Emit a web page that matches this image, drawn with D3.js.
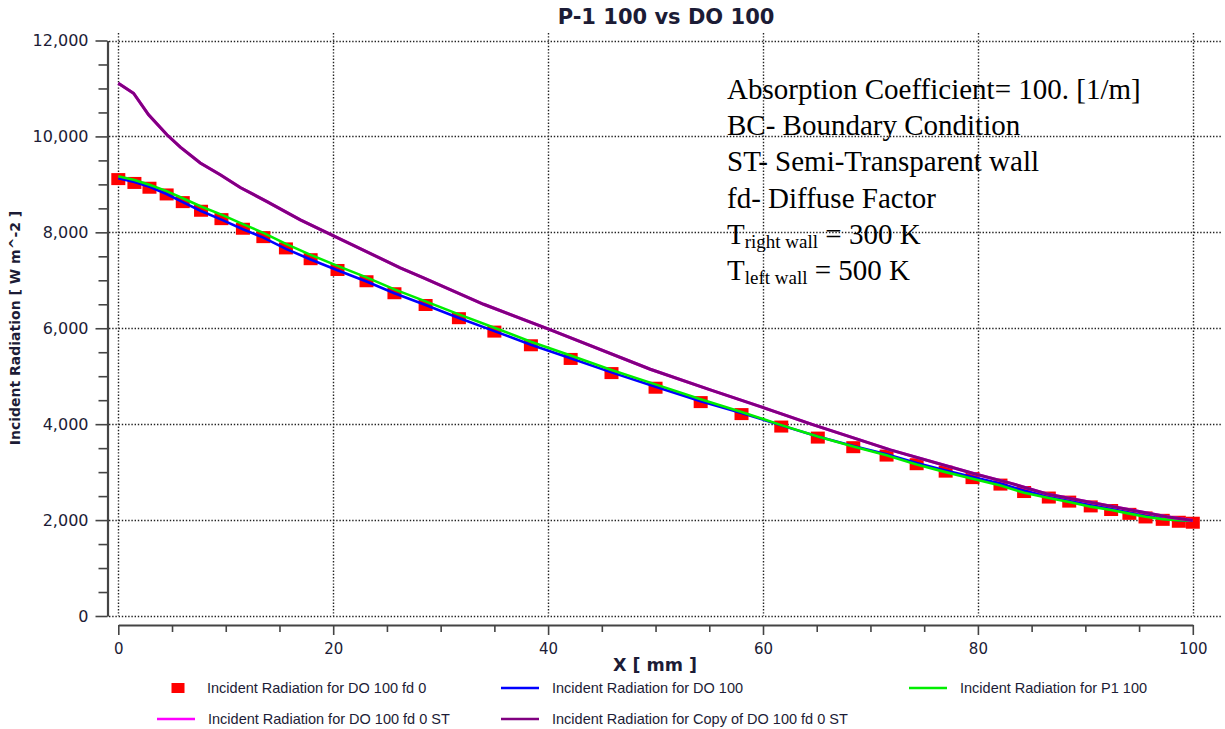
<!DOCTYPE html>
<html>
<head>
<meta charset="utf-8">
<script src="https://cdn.jsdelivr.net/npm/d3@7"></script>
<style>
  body { margin: 0; background: #fff; }
  svg { display: block; }
</style>
</head>
<body>
<script>
// node positions [mm] shared by the DO / P1 curves
const xNodes = [0, 1.5, 2.9, 4.5, 6.0, 7.7, 9.6, 11.6, 13.5, 15.6, 17.9, 20.4, 23.1, 25.7, 28.6, 31.7,
  35.0, 38.4, 42.1, 45.9, 50.0, 54.2, 58.0, 61.7, 65.1, 68.4, 71.5, 74.3, 77.0, 79.5, 82.1, 84.3,
  86.6, 88.5, 90.5, 92.4, 94.1, 95.6, 97.2, 98.7, 100];

// Incident Radiation for DO 100 fd 0 (red squares)
const doFd0 = [9110, 9030, 8930, 8790, 8630, 8450, 8275, 8075, 7900, 7665, 7440, 7215, 6980, 6730, 6485, 6210,
  5930, 5645, 5360, 5065, 4760, 4460, 4210, 3950, 3720, 3520, 3345, 3165, 3010, 2875, 2740, 2585,
  2470, 2385, 2285, 2210, 2130, 2055, 2005, 1965, 1945];

// Incident Radiation for DO 100 (blue)
const do100 = [9130, 9050, 8950, 8800, 8630, 8445, 8265, 8065, 7890, 7655, 7435, 7210, 6975, 6730, 6485, 6215,
  5940, 5655, 5375, 5080, 4780, 4480, 4235, 3975, 3745, 3545, 3370, 3190, 3035, 2900, 2765, 2610,
  2495, 2410, 2310, 2240, 2155, 2085, 2030, 2000, 1985];

// Incident Radiation for P1 100 (green)
const p1100 = [9170, 9090, 8990, 8860, 8710, 8540, 8370, 8170, 7990, 7760, 7530, 7300, 7060, 6810, 6560, 6290,
  6010, 5720, 5430, 5130, 4830, 4520, 4255, 3980, 3745, 3535, 3350, 3160, 3000, 2860, 2720, 2570,
  2460, 2375, 2280, 2210, 2135, 2070, 2020, 1995, 1985];

// Incident Radiation for Copy of DO 100 fd 0 ST (purple)
const xCopy = [0, 1.42, 2.82, 4.53, 5.77, 7.63, 9.49, 11.35, 13.84, 16.94, 20.04, 26.24, 28.41, 34.0, 40.05,
  49.51, 55.1, 59.9, 64.7, 71.85, 79.92, 83.01, 86.43, 92.63, 97.6, 100];
const copySt = [11110, 10900, 10450, 10035, 9775, 9445, 9200, 8935, 8640, 8260, 7925, 7260, 7050, 6500, 5980,
  5145, 4715, 4355, 3985, 3465, 2950, 2770, 2545, 2280, 2070, 1990];

// Incident Radiation for DO 100 fd 0 ST (magenta) - lies exactly under the purple copy
const xSt = xCopy;
const doFd0St = copySt;

const xTicks = [0, 20, 40, 60, 80, 100];
const yTicks = [0, 2000, 4000, 6000, 8000, 10000, 12000];

const notes = ["Absorption Coefficient= 100. [1/m]", "BC- Boundary Condition",
  "ST- Semi-Transparent wall", "fd- Diffuse Factor"];

const W = 1225, H = 729;
const txt = "#1c1c36";

const svg = d3.select("body").append("svg")
  .attr("width", W).attr("height", H)
  .style("font-family", "'DejaVu Sans', Verdana, sans-serif");

const x = d3.scaleLinear().domain([0, 100]).range([118.3, 1192.8]);
const y = d3.scaleLinear().domain([0, 12000]).range([616, 40.5]);

// dotted grid
const grid = svg.append("g").attr("stroke", "#222").attr("stroke-width", 1.4)
  .attr("stroke-dasharray", "1.4,1.8");
grid.selectAll(".gx").data(xTicks).enter().append("line")
  .attr("x1", d => Math.round(x(d)) + 0.5).attr("x2", d => Math.round(x(d)) + 0.5)
  .attr("y1", 33).attr("y2", 616);
grid.selectAll(".gy").data(yTicks).enter().append("line")
  .attr("x1", 109).attr("x2", 1222)
  .attr("y1", d => Math.round(y(d)) + 0.5).attr("y2", d => Math.round(y(d)) + 0.5);

// y axis
const yAxis = svg.append("g").attr("transform", "translate(107.5,0)")
  .call(d3.axisLeft(y).tickValues(yTicks).tickSize(12).tickSizeOuter(0).tickFormat(d3.format(",")));
svg.append("g").attr("transform", "translate(107.5,0)")
  .call(d3.axisLeft(y).tickValues(d3.range(500, 12000, 500).filter(v => v % 2000)).tickSize(9).tickFormat(""))
  .select(".domain").remove();

// x axis
const xAxis = svg.append("g").attr("transform", "translate(0,625)")
  .call(d3.axisBottom(x).tickValues(xTicks).tickSize(10).tickSizeOuter(0));
svg.append("g").attr("transform", "translate(0,625)")
  .call(d3.axisBottom(x).tickValues(d3.range(5, 100, 5).filter(v => v % 20)).tickSize(7).tickFormat(""))
  .select(".domain").remove();

svg.selectAll(".domain").attr("stroke", "#444").attr("stroke-width", 2.2);
svg.selectAll(".tick line").attr("stroke", "#444").attr("stroke-width", 1.6);
yAxis.selectAll(".tick text").attr("font-size", 16).attr("fill", txt).attr("x", -19)
  .style("font-family", "'DejaVu Sans', Verdana, sans-serif");
xAxis.selectAll(".tick text").attr("font-size", 15).attr("fill", txt).attr("dy", "1.05em")
  .style("font-family", "'DejaVu Sans', Verdana, sans-serif");

// titles
svg.append("text").attr("x", 666).attr("y", 24).attr("text-anchor", "middle")
  .attr("font-size", 21).attr("font-weight", "bold").attr("fill", txt).text("P-1 100 vs DO 100");
svg.append("text").attr("x", 655).attr("y", 671).attr("text-anchor", "middle")
  .attr("font-size", 17.5).attr("font-weight", "bold").attr("fill", txt).text("X [ mm ]");
svg.append("text").attr("transform", "translate(20,328) rotate(-90)").attr("text-anchor", "middle")
  .attr("font-size", 14).attr("font-weight", "bold").attr("fill", txt)
  .text("Incident Radiation [ W m^-2 ]");

// series
svg.selectAll(".sq").data(xNodes).enter().append("rect")
  .attr("x", d => x(d) - 7).attr("y", (d, i) => y(doFd0[i]) - 6)
  .attr("width", 14).attr("height", 12).attr("fill", "#ff0000");

const line = (xs, ys) => d3.line().x((d, i) => x(xs[i])).y(d => y(d))(ys);

svg.append("path").attr("d", line(xNodes, do100))
  .attr("fill", "none").attr("stroke", "#0000ff").attr("stroke-width", 2.6);
svg.append("path").attr("d", line(xNodes, p1100))
  .attr("fill", "none").attr("stroke", "#00ee00").attr("stroke-width", 2.6);
svg.append("path").attr("d", line(xSt, doFd0St))
  .attr("fill", "none").attr("stroke", "#ff00ff").attr("stroke-width", 3);
svg.append("path").attr("d", line(xCopy, copySt))
  .attr("fill", "none").attr("stroke", "#800080").attr("stroke-width", 3);

// annotation
const note = svg.append("g").attr("font-family", "'Liberation Serif', 'Times New Roman', serif")
  .attr("font-size", 29).attr("fill", "#000");
note.selectAll(".n").data(notes).enter().append("text")
  .attr("x", 727).attr("y", (d, i) => 99 + i * 36.2).text(d => d);
const t1 = note.append("text").attr("x", 727).attr("y", 99 + 4 * 36.2);
t1.append("tspan").text("T");
t1.append("tspan").attr("font-size", 19).attr("dy", 4).text("right wall");
t1.append("tspan").attr("dy", -4).text(" = 300 K");
const t2 = note.append("text").attr("x", 727).attr("y", 99 + 5 * 36.2);
t2.append("tspan").text("T");
t2.append("tspan").attr("font-size", 19).attr("dy", 4).text("left wall");
t2.append("tspan").attr("dy", -4).text(" = 500 K");

// legend
const legend = [
  { name: "Incident Radiation for DO 100 fd 0", color: "#ff0000", kind: "sq", lx: 171.5, ly: 688 },
  { name: "Incident Radiation for DO 100", color: "#0000ff", kind: "ln", lx: 501, ly: 688 },
  { name: "Incident Radiation for P1 100", color: "#00ee00", kind: "ln", lx: 909, ly: 688 },
  { name: "Incident Radiation for DO 100 fd 0 ST", color: "#ff00ff", kind: "ln", lx: 157, ly: 719 },
  { name: "Incident Radiation for Copy of DO 100 fd 0 ST", color: "#800080", kind: "ln", lx: 501, ly: 719 }
];
const lg = svg.append("g");
legend.forEach(d => {
  if (d.kind === "sq") {
    lg.append("rect").attr("x", d.lx).attr("y", d.ly - 5).attr("width", 13).attr("height", 10).attr("fill", d.color);
  } else {
    lg.append("line").attr("x1", d.lx).attr("x2", d.lx + 38).attr("y1", d.ly).attr("y2", d.ly)
      .attr("stroke", d.color).attr("stroke-width", 2.5);
  }
  lg.append("text").attr("x", d.kind === "sq" ? 207 : d.lx + 51).attr("y", d.ly + 4.5)
    .attr("font-family", "'Liberation Sans', Arial, sans-serif")
    .attr("font-size", 14.5).attr("fill", txt).text(d.name);
});
</script>
</body>
</html>
